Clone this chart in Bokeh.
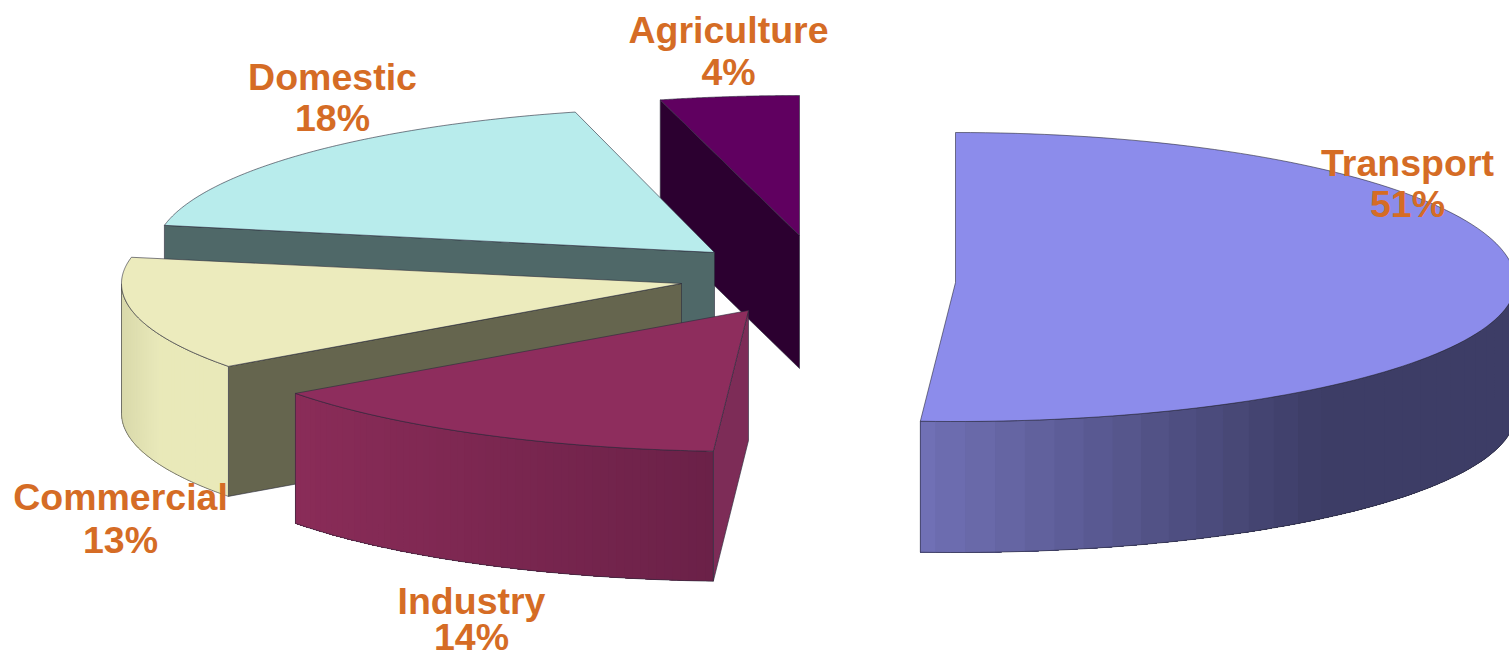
import numpy as np
from bokeh.core.properties import value
from bokeh.embed import file_html
from bokeh.models import Range1d
from bokeh.plotting import figure
from bokeh.resources import INLINE

# Share of final energy by sector, in clockwise order from twelve o'clock
sectors = ["Transport", "Industry", "Commercial", "Domestic", "Agriculture"]
shares = [51, 14, 13, 18, 4]

# Exploded slice geometry on the page
apex_x = [955, 748, 681, 714, 799]
apex_y = [282, 310, 283, 252, 235]
radius_back = [150, 141, 140, 145, 140]
radius_front = [139, 141, 141, 141, 141]
radius_x = 560
depth = [131, 130, 130, 130, 133]

# Slice colours
top_colors = ["#8c8ceb", "#8e2d5d", "#ecebbd", "#b8ecec", "#600060"]
radial_colors = [None, "#7d2c57", "#65654e", "#4f6868", "#2c0030"]
wall_start = ["#7272b8", "#8a2c58", "#e9e9b9", "#b8ecec", "#600060"]
wall_end = ["#3d3d66", "#6b2148", "#d8d8aa", "#b8ecec", "#600060"]
wall_span = [(922, 1330), (297, 714), (160, 121), (0, 1), (0, 1)]
outline = "#2a2a3a"

# Label anchors
label_x = [1407, 471, 120, 332, 728]
name_y = [162, 600, 496, 76, 29]
share_y = [203, 636, 539, 117, 71]
label_color = "#d56c25"

BAND = 2  # rim samples per shading band


def rim(i, theta_deg):
    """Point on the top rim of slice i at a clockwise angle from twelve o'clock."""
    t = np.radians(theta_deg)
    c = np.cos(t)
    ry = np.where(c > 0, radius_back[i], radius_front[i])
    return apex_x[i] + radius_x * np.sin(t), apex_y[i] - ry * c


def mix(a, b, f):
    ca = [int(a[k:k + 2], 16) for k in (1, 3, 5)]
    cb = [int(b[k:k + 2], 16) for k in (1, 3, 5)]
    return "#" + "".join(f"{round(x + (y - x) * f):02x}" for x, y in zip(ca, cb))


p = figure(width=1509, height=657, output_backend="svg", toolbar_location=None,
           x_range=Range1d(0, 1509), y_range=Range1d(657, 0), min_border=0,
           background_fill_color="white", border_fill_color="white",
           outline_line_color=None)
p.axis.visible = False
p.grid.visible = False

edges = np.cumsum([0] + shares) / sum(shares) * 360.0
line_kw = dict(line_color=outline, line_width=0.8, line_alpha=0.75)

# Paint back to front: Agriculture, Domestic, Commercial, Industry, Transport
for i in [4, 3, 2, 1, 0]:
    start, stop = edges[i], edges[i + 1]
    d = depth[i]
    theta = np.linspace(start, stop, 121)
    rx, ry = rim(i, theta)

    # Cut face along the slice's leading radius
    if radial_colors[i]:
        ex, ey = rim(i, start)
        ax_, ay_ = apex_x[i], apex_y[i]
        p.patch([ax_, ex, ex, ax_], [ay_, ey, ey + d, ay_ + d],
                fill_color=radial_colors[i], **line_kw)

    # Curved outer wall, shaded in overlapping bands across its width
    front = theta[(theta >= 90) & (theta <= 270)]
    if len(front) > 1:
        fx, fy = rim(i, front)
        x0, x1 = wall_span[i]
        xs, ys, cs = [], [], []
        for k in range(0, len(front) - 1, BAND):
            tail = len(front) - 1
            # Each band runs through to the end of the wall; later bands paint over it
            f = np.clip((fx[k] - x0) / (x1 - x0), 0, 1)
            bx, by = fx[k:tail + 1], fy[k:tail + 1]
            xs.append(list(bx) + list(bx[::-1]))
            ys.append(list(by) + list(by[::-1] + d))
            cs.append(mix(wall_start[i], wall_end[i], float(f)))
        p.patches(xs, ys, fill_color=cs, line_color=None)
        p.line(list(fx) + list(fx[::-1]) + [fx[0]],
               list(fy) + list(fy[::-1] + d) + [fy[0]], **line_kw)

    # Flat top of the slice
    p.patch([apex_x[i]] + list(rx), [apex_y[i]] + list(ry),
            fill_color=top_colors[i], **line_kw)

# Two-line sector labels
names = list(sectors)
percents = [f"{v}%" for v in shares]
text_kw = dict(text_font=value("Liberation Sans"), text_font_style="bold",
               text_font_size="37.5px", text_color=label_color,
               text_align="center", text_baseline="middle")
p.text(label_x, name_y, text=names, **text_kw)
p.text(label_x, share_y, text=percents, **text_kw)

open("out.html", "w").write(file_html(p, INLINE))
